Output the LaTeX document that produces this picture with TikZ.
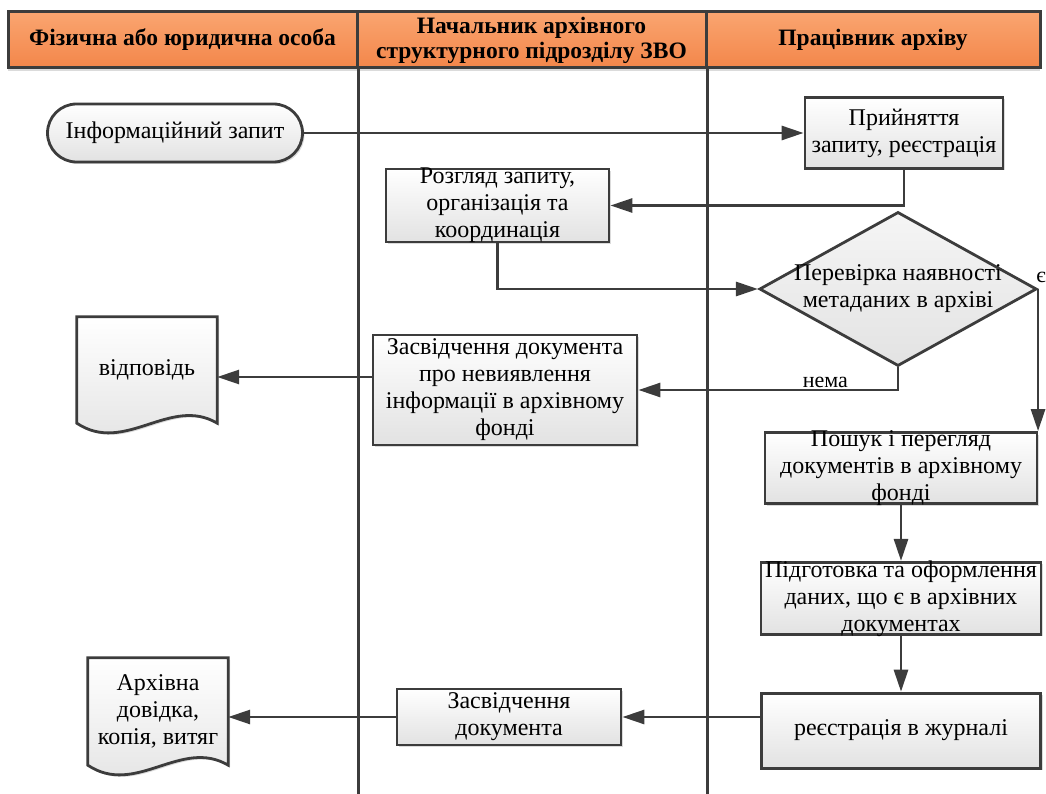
\documentclass[tikz,border=0pt]{standalone}
\usepackage{fontspec}
\setmainfont{Liberation Serif}
\usetikzlibrary{positioning,shapes.geometric,arrows.meta,shadows,backgrounds}
\definecolor{linegray}{RGB}{60,60,60}
\definecolor{headtop}{RGB}{250,165,112}
\definecolor{headbot}{RGB}{243,134,74}
\definecolor{boxbot}{RGB}{226,226,226}
\tikzset{
  head/.style={rectangle, draw=linegray, line width=3pt, top color=headtop, bottom color=headbot,
    minimum height=56pt, inner sep=0pt, align=center, font=\fontsize{23.5}{25}\selectfont\bfseries,
    drop shadow={shadow xshift=0pt, shadow yshift=-3pt, fill=black!40, opacity=.35}},
  proc/.style={rectangle, draw=linegray, line width=2.8pt, top color=white, bottom color=boxbot,
    align=center, inner xsep=2pt, inner ysep=-2pt, font=\fontsize{24}{27}\selectfont,
    drop shadow={shadow xshift=2pt, shadow yshift=-2pt, fill=black!40, opacity=.35}},
  term/.style={proc, rounded corners=29pt, inner xsep=10pt},
  decide/.style={rectangle, draw=linegray, line width=2.8pt, top color=black!4, bottom color=black!11,
    diamond, aspect=1.8, inner sep=-3pt, align=center, font=\fontsize{24}{27}\selectfont},
  docbox/.style={align=center, inner sep=0pt, font=\fontsize{24}{27}\selectfont},
  docshape/.style={draw=linegray, line width=2.8pt, top color=white, bottom color=boxbot,
    drop shadow={shadow xshift=2pt, shadow yshift=-2pt, fill=black!40, opacity=.35}},
  flow/.style={draw=linegray, line width=2.8pt, -{Triangle[length=22pt,width=14pt]}},
  lane/.style={draw=linegray, line width=3pt},
  lbl/.style={inner sep=1pt, font=\fontsize{22}{24}\selectfont}
}
\begin{document}
\begin{tikzpicture}[x=1pt, y=-1pt]
    \useasboundingbox (0,0) rectangle (1046,794);
    \node[head, minimum width=349pt] (h1) at (182.5,40) {Фізична або юридична особа};
    \node[head, minimum width=349pt] (h2) at (531.5,40) {Начальник архівного\\структурного підрозділу ЗВО};
    \node[head, minimum width=334pt] (h3) at (873,40) {Працівник архіву};
    \coordinate (bot) at (0,794);
    \draw[lane] (h1.south east) -- (h1.south east |- bot);
    \draw[lane] (h2.south east) -- (h2.south east |- bot);

    \node[term, minimum width=255pt, minimum height=58pt] (req) at (175,133) {Інформаційний запит};
    \node[proc, minimum width=198pt, minimum height=71pt] (acc) at (904,133) {Прийняття\\запиту, реєстрація};
    \node[proc, minimum width=223pt, minimum height=73pt] (rev) at (497.5,205.5) {Розгляд запиту,\\організація та\\координація};
    \node[decide, minimum width=274pt, minimum height=151pt] (chk) at (898,289) {Перевірка наявності\\метаданих в архіві};
    \node[proc, minimum width=264pt, minimum height=110pt] (nf) at (505,390) {Засвідчення документа\\про невиявлення\\інформації в архівному\\фонді};
    \node[proc, minimum width=272pt, minimum height=70pt] (srch) at (901,468) {Пошук і перегляд\\документів в архівному\\фонді};
    \node[proc, minimum width=280pt, minimum height=72pt, below=56pt of srch] (prep) {Підготовка та оформлення\\даних, що є в архівних\\документах};
    \node[proc, minimum width=279pt, minimum height=75pt, below=56pt of prep] (reg) {реєстрація в журналі};
    \node[proc, minimum width=224pt, minimum height=56pt] (cert) at (509,717) {Засвідчення\\документа};
    \node[docbox, minimum width=140pt, minimum height=106pt] (resp) at (147,370) {відповідь};
    \node[docbox, minimum width=140pt, minimum height=107pt] (copy) at (158,711.5) {Архівна\\довідка,\\копія, витяг};
    \begin{scope}[on background layer]
        \draw[docshape] (resp.north west) -- (resp.north east) -- (resp.south east)
            .. controls +(-47,-28) and +(48,32) .. (resp.south west) -- cycle;
        \draw[docshape] (copy.north west) -- (copy.north east) -- (copy.south east)
            .. controls +(-47,-28) and +(48,32) .. (copy.south west) -- cycle;
    \end{scope}

    \coordinate (nfout) at ([yshift=13pt]nf.west);
    \draw[flow] (req) -- (acc);
    \draw[flow] (acc.south) |- (rev.east);
    \draw[flow] (rev.south) |- (chk.west);
    \draw[flow] (chk.east) node[lbl, above, xshift=3pt, yshift=4pt] {є} -- (chk.east |- srch.north);
    \draw[flow] (chk.south) |- node[lbl, pos=0.64, above] {нема} (nf.east);
    \draw[flow] (nfout) -- (nfout -| resp.east);
    \draw[flow] (srch) -- (prep);
    \draw[flow] (prep) -- (reg);
    \draw[flow] (reg.west |- cert.east) -- (cert.east);
    \draw[flow] (cert.west) -- (cert.west -| copy.east);
\end{tikzpicture}
\end{document}
